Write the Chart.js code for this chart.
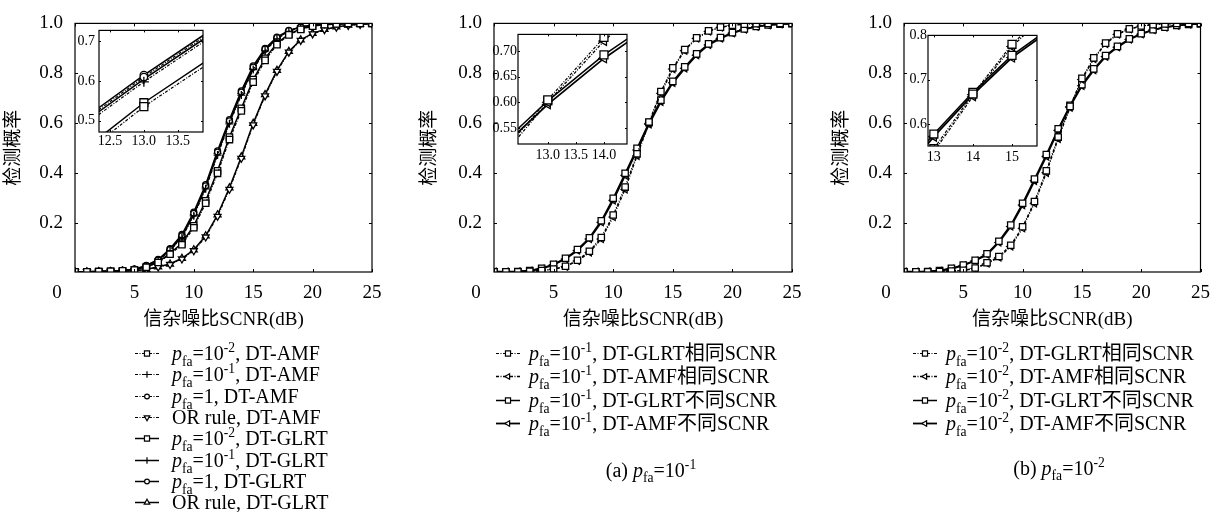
<!DOCTYPE html>
<html>
<head>
<meta charset="utf-8">
<script src="https://cdn.jsdelivr.net/npm/chart.js@4.4.0/dist/chart.umd.min.js"></script>
<style>
  html, body { margin: 0; padding: 0; background: #fff; }
  #wrap { position: relative; width: 1220px; height: 512px; overflow: hidden; background: #fff; }
  canvas { position: absolute; }
</style>
</head>
<body>
<div id="wrap">
  <canvas id="m1" width="410" height="512" style="left:0;top:0"></canvas>
  <canvas id="m2" width="410" height="512" style="left:410px;top:0"></canvas>
  <canvas id="m3" width="400" height="512" style="left:820px;top:0"></canvas>
  <canvas id="i1" width="140" height="132" style="left:70px;top:18px"></canvas>
  <canvas id="i2" width="147" height="135" style="left:488px;top:25px"></canvas>
  <canvas id="i3" width="147" height="135" style="left:898px;top:26px"></canvas>
</div>
<script>
const FAMILY = "'Liberation Serif', 'Noto Sans CJK SC', serif";

// SNR (dB)
const snr = [0,1,2,3,4,5,6,7,8,9,10,11,12,13,14,15,16,17,18,19,20,21,22,23,24,25];
const xTicks = [0, 5, 10, 15, 20, 25];
const yTicks = [0.2, 0.4, 0.6, 0.8, 1.0];
const xTitle = '信杂噪比SCNR(dB)';
const yTitle = '检测概率';

// panel 1
const p1AmfPfa2 = [0.006,0.006,0.007,0.008,0.01,0.013,0.024,0.043,0.076,0.114,0.182,0.28,0.4,0.535,0.65,0.765,0.852,0.915,0.954,0.976,0.989,0.995,0.998,1,1,1];
const p1AmfPfa1 = [0.006,0.006,0.007,0.008,0.01,0.015,0.028,0.05,0.09,0.143,0.23,0.338,0.473,0.598,0.713,0.815,0.89,0.938,0.968,0.984,0.992,0.996,0.999,1,1,1];
const p1AmfPfa0 = [0.006,0.006,0.007,0.008,0.011,0.016,0.03,0.053,0.095,0.15,0.24,0.35,0.485,0.61,0.725,0.825,0.897,0.943,0.971,0.985,0.993,0.997,0.999,1,1,1];
const p1AmfOr   = [0.006,0.006,0.007,0.007,0.008,0.01,0.014,0.025,0.035,0.057,0.09,0.145,0.228,0.336,0.46,0.594,0.71,0.808,0.885,0.932,0.958,0.975,0.985,0.992,0.996,0.999];
const p1GlrtPfa2 = [0.006,0.006,0.007,0.008,0.01,0.014,0.025,0.045,0.08,0.12,0.19,0.29,0.41,0.545,0.66,0.775,0.86,0.92,0.957,0.978,0.99,0.995,0.998,1,1,1];
const p1GlrtPfa1 = [0.006,0.006,0.007,0.008,0.011,0.015,0.029,0.052,0.093,0.147,0.235,0.345,0.48,0.605,0.72,0.82,0.894,0.941,0.97,0.985,0.993,0.997,0.999,1,1,1];
const p1GlrtPfa0 = [0.006,0.006,0.007,0.008,0.011,0.016,0.031,0.055,0.098,0.155,0.245,0.355,0.49,0.615,0.73,0.83,0.9,0.945,0.972,0.986,0.993,0.997,0.999,1,1,1];
const p1GlrtOr   = [0.006,0.006,0.007,0.007,0.008,0.01,0.015,0.026,0.037,0.06,0.094,0.15,0.234,0.342,0.466,0.6,0.715,0.812,0.888,0.934,0.96,0.976,0.986,0.993,0.997,0.999];
const p1Labels = [
  '$p$_{fa}=10^{-2}, DT-AMF', '$p$_{fa}=10^{-1}, DT-AMF', '$p$_{fa}=1, DT-AMF', 'OR rule, DT-AMF',
  '$p$_{fa}=10^{-2}, DT-GLRT', '$p$_{fa}=10^{-1}, DT-GLRT', '$p$_{fa}=1, DT-GLRT', 'OR rule, DT-GLRT'
];

// panel 2 (pfa = 1e-1)
const p2GlrtSame = [0.006,0.006,0.006,0.008,0.011,0.017,0.028,0.052,0.088,0.143,0.233,0.345,0.478,0.605,0.727,0.822,0.895,0.942,0.97,0.985,0.993,0.997,0.999,1,1,1];
const p2AmfSame  = [0.006,0.006,0.006,0.008,0.01,0.016,0.026,0.049,0.083,0.137,0.225,0.336,0.47,0.6,0.72,0.817,0.891,0.94,0.968,0.984,0.992,0.997,0.999,1,1,1];
const p2GlrtDiff = [0.006,0.006,0.007,0.011,0.02,0.036,0.06,0.095,0.142,0.21,0.3,0.4,0.5,0.603,0.693,0.768,0.826,0.878,0.918,0.943,0.963,0.978,0.988,0.994,0.997,0.999];
const p2AmfDiff  = [0.006,0.006,0.007,0.01,0.018,0.034,0.057,0.091,0.137,0.204,0.292,0.392,0.493,0.596,0.686,0.762,0.82,0.873,0.914,0.94,0.961,0.976,0.987,0.993,0.997,0.999];
const p2Labels = [
  '$p$_{fa}=10^{-1}, DT-GLRT相同SCNR', '$p$_{fa}=10^{-1}, DT-AMF相同SCNR',
  '$p$_{fa}=10^{-1}, DT-GLRT不同SCNR', '$p$_{fa}=10^{-1}, DT-AMF不同SCNR'
];

// panel 3 (pfa = 1e-2)
const p3GlrtSame = [0.006,0.006,0.006,0.007,0.009,0.012,0.021,0.042,0.067,0.112,0.186,0.287,0.41,0.545,0.668,0.78,0.862,0.921,0.958,0.978,0.99,0.995,0.998,1,1,1];
const p3AmfSame  = [0.006,0.006,0.006,0.007,0.009,0.011,0.019,0.039,0.063,0.107,0.18,0.28,0.402,0.538,0.663,0.775,0.858,0.918,0.956,0.977,0.989,0.995,0.998,1,1,1];
const p3GlrtDiff = [0.006,0.006,0.007,0.011,0.02,0.033,0.052,0.078,0.128,0.193,0.28,0.377,0.475,0.578,0.672,0.755,0.818,0.871,0.908,0.938,0.959,0.975,0.985,0.992,0.996,0.998];
const p3AmfDiff  = [0.006,0.006,0.007,0.01,0.018,0.031,0.05,0.074,0.123,0.187,0.273,0.37,0.468,0.572,0.667,0.75,0.813,0.867,0.905,0.936,0.957,0.974,0.984,0.991,0.996,0.998];
const p3Labels = [
  '$p$_{fa}=10^{-2}, DT-GLRT相同SCNR', '$p$_{fa}=10^{-2}, DT-AMF相同SCNR',
  '$p$_{fa}=10^{-2}, DT-GLRT不同SCNR', '$p$_{fa}=10^{-2}, DT-AMF不同SCNR'
];
const captions = ['(a) $p$_{fa}=10^{-1}', '(b) $p$_{fa}=10^{-2}'];

// inset ticks
const in1XTicks = [12.5, 13.0, 13.5], in1YTicks = [0.5, 0.6, 0.7];
const in2XTicks = [13.0, 13.5, 14.0], in2YTicks = [0.55, 0.60, 0.65, 0.70];
const in3XTicks = [13, 14, 15],       in3YTicks = [0.6, 0.7, 0.8];

// line / marker styles
const DOT = [3, 1.5, 1, 1.5];
const st = {
  dRect:  { dash: DOT, width: 1.2, marker: 'rect',     rot: 0,   r: 4.5 },
  dCross: { dash: DOT, width: 1.2, marker: 'cross',    rot: 0,   r: 4 },
  dCirc:  { dash: DOT, width: 1.2, marker: 'circle',   rot: 0,   r: 3 },
  dDown:  { dash: DOT, width: 1.2, marker: 'triangle', rot: 180, r: 4 },
  dLeft:  { dash: DOT, width: 1.3, marker: 'triangle', rot: 270, r: 4 },
  sRect:  { dash: [],  width: 1.5, marker: 'rect',     rot: 0,   r: 4.5 },
  sCross: { dash: [],  width: 1.5, marker: 'cross',    rot: 0,   r: 4 },
  sCirc:  { dash: [],  width: 1.5, marker: 'circle',   rot: 0,   r: 3 },
  sUp:    { dash: [],  width: 1.5, marker: 'triangle', rot: 0,   r: 4 },
  sLeft:  { dash: [],  width: 1.8, marker: 'triangle', rot: 270, r: 4 }
};

const panel1 = [
  { v: p1AmfPfa2, s: st.dRect }, { v: p1AmfPfa1, s: st.dCross }, { v: p1AmfPfa0, s: st.dCirc }, { v: p1AmfOr, s: st.dDown },
  { v: p1GlrtPfa2, s: st.sRect }, { v: p1GlrtPfa1, s: st.sCross }, { v: p1GlrtPfa0, s: st.sCirc }, { v: p1GlrtOr, s: st.sUp }
];
const panel2 = [
  { v: p2GlrtSame, s: st.dRect }, { v: p2AmfSame, s: st.dLeft }, { v: p2GlrtDiff, s: st.sRect }, { v: p2AmfDiff, s: st.sLeft }
];
const panel3 = [
  { v: p3GlrtSame, s: st.dRect }, { v: p3AmfSame, s: st.dLeft }, { v: p3GlrtDiff, s: st.sRect }, { v: p3AmfDiff, s: st.sLeft }
];

Chart.defaults.color = '#000';

function datasetsFor(series, rScale, clip) {
  return series.map(function (it) {
    const ds = {
      data: snr.map(function (x, i) { return { x: x, y: it.v[i] }; }),
      borderColor: '#000',
      borderWidth: it.s.width,
      borderDash: it.s.dash,
      pointStyle: it.s.marker,
      pointRotation: it.s.rot,
      pointRadius: it.s.r * rScale,
      pointHoverRadius: it.s.r * rScale,
      pointBackgroundColor: '#fff',
      pointBorderColor: '#000',
      pointBorderWidth: 1.3,
      tension: 0,
      fill: false
    };
    if (clip !== undefined) ds.clip = clip;
    return ds;
  });
}

// text with $italic$, _{sub} and ^{sup}
function drawRich(ctx, text, x, y, size, align) {
  const parts = text.match(/\$[^$]*\$|_\{[^}]*\}|\^\{[^}]*\}|[^$_^]+/g);
  const items = parts.map(function (p) {
    if (p[0] === '$') return { t: p.slice(1, -1), f: 'italic ', s: size, dy: 0 };
    if (p[0] === '_') return { t: p.slice(2, -1), f: '', s: size * 0.68, dy: size * 0.27 };
    if (p[0] === '^') return { t: p.slice(2, -1), f: '', s: size * 0.68, dy: -size * 0.4 };
    return { t: p, f: '', s: size, dy: 0 };
  });
  let total = 0;
  items.forEach(function (it) {
    ctx.font = it.f + it.s + 'px ' + FAMILY;
    it.w = ctx.measureText(it.t).width;
    total += it.w;
  });
  if (align === 'center') x -= total / 2;
  ctx.textAlign = 'left';
  ctx.textBaseline = 'alphabetic';
  const base = y + size * 0.33;
  items.forEach(function (it) {
    ctx.font = it.f + it.s + 'px ' + FAMILY;
    ctx.fillText(it.t, x, base + it.dy);
    x += it.w;
  });
}

const framePlugin = {
  id: 'frame',
  beforeDatasetsDraw(chart, args, opts) {
    if (!opts.fillBg) return;
    const a = chart.chartArea, ctx = chart.ctx;
    ctx.save();
    ctx.fillStyle = '#fff';
    ctx.fillRect(a.left, a.top, a.right - a.left, a.bottom - a.top);
    ctx.restore();
  },
  afterDraw(chart, args, opts) {
    const a = chart.chartArea, ctx = chart.ctx, sx = chart.scales.x, sy = chart.scales.y;
    ctx.save();
    ctx.strokeStyle = '#000';
    ctx.setLineDash([]);
    ctx.lineWidth = opts.lw;
    ctx.strokeRect(a.left, a.top, a.right - a.left, a.bottom - a.top);
    ctx.lineWidth = 1;
    ctx.beginPath();
    const t = opts.tick;
    sy.ticks.forEach(function (tk) {
      const y = Math.round(sy.getPixelForValue(tk.value)) + 0.5;
      ctx.moveTo(a.left, y); ctx.lineTo(a.left + t, y);
      ctx.moveTo(a.right, y); ctx.lineTo(a.right - t, y);
    });
    sx.ticks.forEach(function (tk) {
      const x = Math.round(sx.getPixelForValue(tk.value)) + 0.5;
      ctx.moveTo(x, a.bottom); ctx.lineTo(x, a.bottom - t);
      ctx.moveTo(x, a.top); ctx.lineTo(x, a.top + t);
    });
    ctx.stroke();
    if (opts.zeroLabel) {
      ctx.fillStyle = '#000';
      ctx.font = '19px ' + FAMILY;
      ctx.textAlign = 'center';
      ctx.textBaseline = 'middle';
      ctx.fillText('0', a.left - 18, a.bottom + 21);
    }
    ctx.restore();
  }
};

function makeMain(id, cfg) {
  const font = { family: FAMILY, size: 19 };
  const legendPlugin = {
    id: 'richLegend',
    afterDraw(chart) {
      const ctx = chart.ctx, L = cfg.legend;
      ctx.save();
      ctx.fillStyle = '#000';
      ctx.strokeStyle = '#000';
      cfg.series.forEach(function (it, i) {
        const y = Math.round(L.y0 + i * L.dy) + 0.5;
        ctx.lineWidth = it.s.width;
        ctx.setLineDash(it.s.dash);
        ctx.beginPath();
        ctx.moveTo(L.x1, y); ctx.lineTo(L.x2, y);
        ctx.stroke();
        ctx.setLineDash([]);
        ctx.lineWidth = 1.2;
        ctx.fillStyle = '#fff';
        Chart.helpers.drawPoint(ctx, { pointStyle: it.s.marker, rotation: it.s.rot, radius: it.s.r * 0.8, borderWidth: 1 }, (L.x1 + L.x2) / 2, y);
        ctx.fillStyle = '#000';
        drawRich(ctx, cfg.labels[i], L.tx, y, 20, 'left');
      });
      if (cfg.caption) drawRich(ctx, cfg.caption.text, cfg.caption.cx, cfg.caption.y, 20, 'center');
      ctx.restore();
    }
  };
  return new Chart(document.getElementById(id), {
    type: 'line',
    data: { datasets: datasetsFor(cfg.series, 1) },
    options: {
      responsive: false,
      animation: false,
      events: [],
      layout: { padding: { left: cfg.padL, right: cfg.padR, top: 16, bottom: 180 } },
      plugins: {
        legend: { display: false },
        tooltip: { enabled: false },
        frame: { lw: 1.2, tick: 3, zeroLabel: true }
      },
      scales: {
        x: {
          type: 'linear', min: 0, max: 25,
          afterFit: function (s) { s.height = 60; },
          afterBuildTicks: function (s) { s.ticks = xTicks.map(function (v) { return { value: v }; }); },
          grid: { display: false, drawTicks: false },
          border: { display: false },
          ticks: { font: font, color: '#000', padding: 10, maxRotation: 0, autoSkip: false,
            callback: function (v) { return v === 0 ? '' : String(v); } },
          title: { display: true, text: xTitle, font: font, color: '#000', padding: { top: 0, bottom: 1 } }
        },
        y: {
          type: 'linear', min: 0.005, max: 1,
          afterFit: function (s) { s.width = cfg.yW; },
          afterBuildTicks: function (s) { s.ticks = yTicks.map(function (v) { return { value: v }; }); },
          grid: { display: false, drawTicks: false },
          border: { display: false },
          ticks: { font: font, color: '#000', padding: 12, callback: function (v) { return v.toFixed(1); } },
          title: { display: true, text: yTitle, font: font, color: '#000', padding: { top: 3, bottom: 0 } }
        }
      }
    },
    plugins: [framePlugin, legendPlugin]
  });
}

function makeInset(id, cfg) {
  const font = { family: FAMILY, size: 14 };
  return new Chart(document.getElementById(id), {
    type: 'line',
    data: { datasets: datasetsFor(cfg.series, 1.25, 0) },
    options: {
      responsive: false,
      animation: false,
      events: [],
      layout: { padding: { left: 0, right: cfg.padR, top: cfg.padT, bottom: 0 } },
      plugins: {
        legend: { display: false },
        tooltip: { enabled: false },
        frame: { lw: 1.2, tick: 2, fillBg: true }
      },
      scales: {
        x: {
          type: 'linear', min: cfg.xMin, max: cfg.xMax,
          afterFit: function (s) { s.height = cfg.xH; },
          afterBuildTicks: function (s) { s.ticks = cfg.xTicks.map(function (v) { return { value: v }; }); },
          grid: { display: false, drawTicks: false },
          border: { display: false },
          ticks: { font: font, color: '#000', padding: cfg.xPad, maxRotation: 0, autoSkip: false,
            callback: function (v) { return v.toFixed(cfg.xDig); } }
        },
        y: {
          type: 'linear', min: cfg.yMin, max: cfg.yMax,
          afterFit: function (s) { s.width = cfg.yW; },
          afterBuildTicks: function (s) { s.ticks = cfg.yTicks.map(function (v) { return { value: v }; }); },
          grid: { display: false, drawTicks: false },
          border: { display: false },
          ticks: { font: font, color: '#000', padding: cfg.yPad, autoSkip: false,
            callback: function (v) { return v.toFixed(cfg.yDig); } }
        }
      }
    },
    plugins: [framePlugin]
  });
}

makeMain('m1', {
  series: panel1, labels: p1Labels, padL: 0, yW: 75, padR: 38,
  legend: { x1: 135, x2: 159, tx: 172, y0: 353, dy: 21.3 }
});
makeMain('m2', {
  series: panel2, labels: p2Labels, padL: 6, yW: 78, padR: 28,
  legend: { x1: 86, x2: 110, tx: 119, y0: 353, dy: 23.3 },
  caption: { text: captions[0], cx: 241, y: 470 }
});
makeMain('m3', {
  series: panel3, labels: p3Labels, padL: 8, yW: 76, padR: 18,
  legend: { x1: 93, x2: 117, tx: 126, y0: 353, dy: 23.3 },
  caption: { text: captions[1], cx: 239, y: 468 }
});

makeInset('i1', {
  series: panel1, xMin: 12.34, xMax: 13.87, yMin: 0.471, yMax: 0.728,
  xTicks: in1XTicks, yTicks: in1YTicks, xDig: 1, yDig: 1,
  yW: 29, padR: 7, padT: 7, xH: 18, xPad: 1, yPad: 4
});
makeInset('i2', {
  series: panel2, xMin: 12.47, xMax: 14.41, yMin: 0.5185, yMax: 0.733,
  xTicks: in2XTicks, yTicks: in2YTicks, xDig: 1, yDig: 2,
  yW: 30, padR: 8, padT: 8, xH: 16, xPad: 3, yPad: 1
});
makeInset('i3', {
  series: panel3, xMin: 12.85, xMax: 15.64, yMin: 0.551, yMax: 0.80,
  xTicks: in3XTicks, yTicks: in3YTicks, xDig: 0, yDig: 1,
  yW: 30, padR: 8, padT: 8, xH: 15, xPad: 3, yPad: 1
});
</script>
</body>
</html>
